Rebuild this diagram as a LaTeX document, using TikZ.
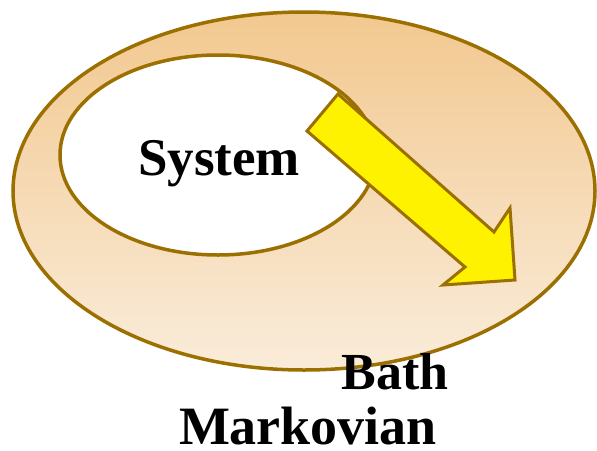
\documentclass[tikz,border=0pt]{standalone}
\usepackage{fontspec}
\setmainfont{Liberation Serif}
\begin{document}
\begin{tikzpicture}[x=1pt,y=-1pt,
  rim/.style={draw={rgb,255:red,155;green,112;blue,0},line width=3.5pt},
  lbl/.style={inner sep=0pt,anchor=base,font=\bfseries}]
\definecolor{bathtop}{RGB}{242,200,143}
\definecolor{bathbot}{RGB}{250,236,218}
\useasboundingbox (0,0) rectangle (597,450);
\fill[white] (0,0) rectangle (597,450);
\path[rim,top color=bathtop,bottom color=bathbot] (304,191) ellipse [x radius=291,y radius=179];
\path[rim,fill=white] (218,155) ellipse [x radius=158,y radius=100];
\draw[rim,fill=yellow,line width=3pt,line join=miter]
  (338,94) -- (494,232) -- (510,208) -- (515,280) -- (443,285) -- (465,267) -- (307,131) -- cycle;
\node[lbl,font=\bfseries\fontsize{53}{60}\selectfont] (sys) at (219,175) {System};
\node[lbl,font=\bfseries\fontsize{52}{60}\selectfont] (bath) at (395,389) {Bath};
\node[lbl,text depth=0pt,font=\bfseries\fontsize{54}{60}\selectfont] (mark) at (308,444) {Markovian};
\end{tikzpicture}
\end{document}
